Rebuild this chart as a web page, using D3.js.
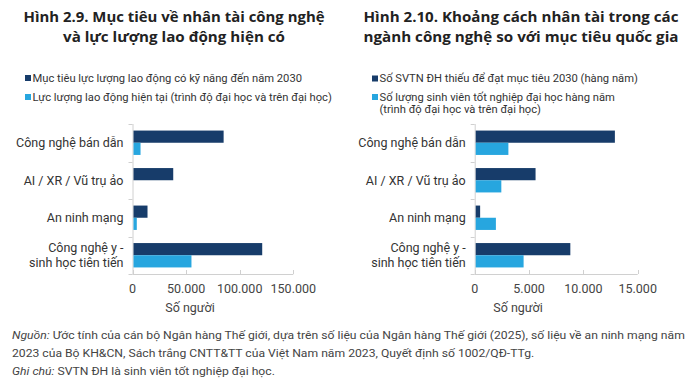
<!DOCTYPE html>
<html><head><meta charset="utf-8">
<script src="https://cdn.jsdelivr.net/npm/d3@7"></script>
<style>body{margin:0;background:#fff}svg{display:block}</style>
</head><body>
<svg id="c" width="693" height="388"></svg>
<script>
const categories = ["Công nghệ bán dẫn", "AI / XR / Vũ trụ ảo", "An ninh mạng", "Công nghệ y - sinh học tiên tiến"];
const categoryLines = [["Công nghệ bán dẫn"], ["AI / XR / Vũ trụ ảo"], ["An ninh mạng"], ["Công nghệ y -", "sinh học tiên tiến"]];
const leftTarget2030 = [85000, 38000, 14000, 121000];
const leftCurrentWorkforce = [7500, 600, 4000, 55000];
const rightGapGraduates = [12900, 5600, 500, 8800];
const rightAnnualGraduates = [3100, 2450, 1950, 4500];
const leftTicks = [0, 50000, 100000, 150000];
const rightTicks = [0, 5000, 10000, 15000];
const leftTitle = ["Hình 2.9. Mục tiêu về nhân tài công nghệ", "và lực lượng lao động hiện có"];
const rightTitle = ["Hình 2.10. Khoảng cách nhân tài trong các", "ngành công nghệ so với mục tiêu quốc gia"];
const leftLegend = [["Mục tiêu lực lượng lao động có kỹ năng đến năm 2030"], ["Lực lượng lao động hiện tại (trình độ đại học và trên đại học)"]];
const rightLegend = [["Số SVTN ĐH thiếu để đạt mục tiêu 2030 (hàng năm)"], ["Số lượng sinh viên tốt nghiệp đại học hàng năm", "(trình độ đại học và trên đại học)"]];
const axisTitle = "Số người";
const footer = [
  [["Nguồn:", true], [" Ước tính của cán bộ Ngân hàng Thế giới, dựa trên số liệu của Ngân hàng Thế giới (2025), số liệu về an ninh mạng năm", false]],
  [["2023 của Bộ KH&CN, Sách trắng CNTT&TT của Việt Nam năm 2023, Quyết định số 1002/QĐ-TTg.", false]],
  [["Ghi chú:", true], [" SVTN ĐH là sinh viên tốt nghiệp đại học.", false]]
];

const COLORS = ["#173c6a", "#27a6df"];
const svg = d3.select("#c");
const fmt = d => d3.format(",")(d).replace(/,/g, ".");

function panel(o) {
  const g = svg.append("g");
  o.title.forEach((t, i) => {
    g.append("text").attr("x", o.titleCx).attr("y", 22 + i * 20)
      .attr("text-anchor", "middle").attr("font-family", "'Open Sans', sans-serif")
      .attr("font-weight", 700).attr("font-size", 14.2).attr("fill", "#222")
      .attr("textLength", o.titleW[i]).attr("lengthAdjust", "spacingAndGlyphs").text(t);
  });
  o.legend.forEach((lines, i) => {
    const by = o.legendY[i];
    g.append("rect").attr("x", o.legX).attr("y", by[0] - 6.5).attr("width", 6).attr("height", 6).attr("fill", COLORS[i]);
    lines.forEach((l, j) => {
      g.append("text").attr("x", o.legX + 7.5).attr("y", by[j])
        .attr("font-family", "Roboto, sans-serif").attr("font-size", 11.2).attr("fill", "#333").text(l);
    });
  });
  const x = d3.scaleLinear().domain([0, o.max]).range([o.x0, o.x1]);
  const y = d3.scaleBand().domain(categories).range([124, 274]).paddingInner(0.35).paddingOuter(0.175);
  const ys = d3.scaleBand().domain([0, 1]).range([0, y.bandwidth()]);
  const axG = g.append("g").attr("stroke", "#d0d0d0").attr("stroke-width", 1);
  axG.append("line").attr("x1", o.x0 + 0.5).attr("x2", o.x0 + 0.5).attr("y1", 124).attr("y2", 274);
  axG.append("line").attr("x1", o.x0).attr("x2", x(o.max)).attr("y1", 274.5).attr("y2", 274.5);
  const step = y.step();
  d3.range(categories.length + 1).forEach(i => {
    const yy = Math.round(124 + i * step) + 0.5;
    axG.append("line").attr("x1", o.x0 - 4).attr("x2", o.x0).attr("y1", yy).attr("y2", yy);
  });
  o.ticks.forEach(t => {
    axG.append("line").attr("x1", Math.round(x(t)) + 0.5).attr("x2", Math.round(x(t)) + 0.5).attr("y1", 270).attr("y2", 274);
    g.append("text").attr("x", x(t)).attr("y", 292.5).attr("text-anchor", "middle")
      .attr("font-family", "Roboto, sans-serif").attr("font-size", 12.5).attr("fill", "#444").text(fmt(t));
  });
  g.append("text").attr("x", o.axisTitleX).attr("y", 311.5).attr("text-anchor", "middle")
    .attr("font-family", "Roboto, sans-serif").attr("font-size", 12.5).attr("fill", "#444").text(axisTitle);
  [o.s1, o.s2].forEach((vals, si) => {
    g.selectAll(null).data(vals).enter().append("rect")
      .attr("x", x(0) + 1).attr("y", (d, i) => y(categories[i]) + ys(si))
      .attr("width", d => Math.max(0, x(d) - x(0) - 1)).attr("height", ys.bandwidth())
      .attr("fill", COLORS[si]);
  });
  categories.forEach((c, i) => {
    const lines = categoryLines[i];
    const cy = y(c) + y.bandwidth() / 2;
    lines.forEach((l, j) => {
      g.append("text").attr("x", o.x0 - 9).attr("y", cy + (j - (lines.length - 1) / 2) * 15 + 4.3)
        .attr("text-anchor", "end").attr("font-family", "Roboto, sans-serif")
        .attr("font-size", 12.5).attr("fill", "#333").text(l);
    });
  });
}

panel({title: leftTitle, titleCx: 174, titleW: [301, 222], legend: leftLegend, legX: 25, legendY: [[81.5], [100.5]],
  x0: 132.5, x1: 293.3, max: 150000, ticks: leftTicks, s1: leftTarget2030, s2: leftCurrentWorkforce, axisTitleX: 190});
panel({title: rightTitle, titleCx: 521, titleW: [315, 315], legend: rightLegend, legX: 372, legendY: [[82], [100.5, 112.5]],
  x0: 474.7, x1: 637.7, max: 15000, ticks: rightTicks, s1: rightGapGraduates, s2: rightAnnualGraduates, axisTitleX: 518});

// footer: same horizontal squeeze for every line (condensed look)
const footG = svg.append("g");
const texts = footer.map((parts, i) => {
  const t = footG.append("text").attr("x", 0).attr("y", 0)
    .attr("font-family", "Roboto, sans-serif").attr("font-size", 11.3).attr("fill", "#444");
  parts.forEach(p => t.append("tspan").attr("font-style", p[1] ? "italic" : "normal").text(p[0]));
  return t;
});
const natural = texts[0].node().getComputedTextLength();
const k = 673 / natural;
texts.forEach((t, i) => t.attr("transform", `translate(12,${339 + i * 18}) scale(${k},1)`));
</script>
</body></html>
